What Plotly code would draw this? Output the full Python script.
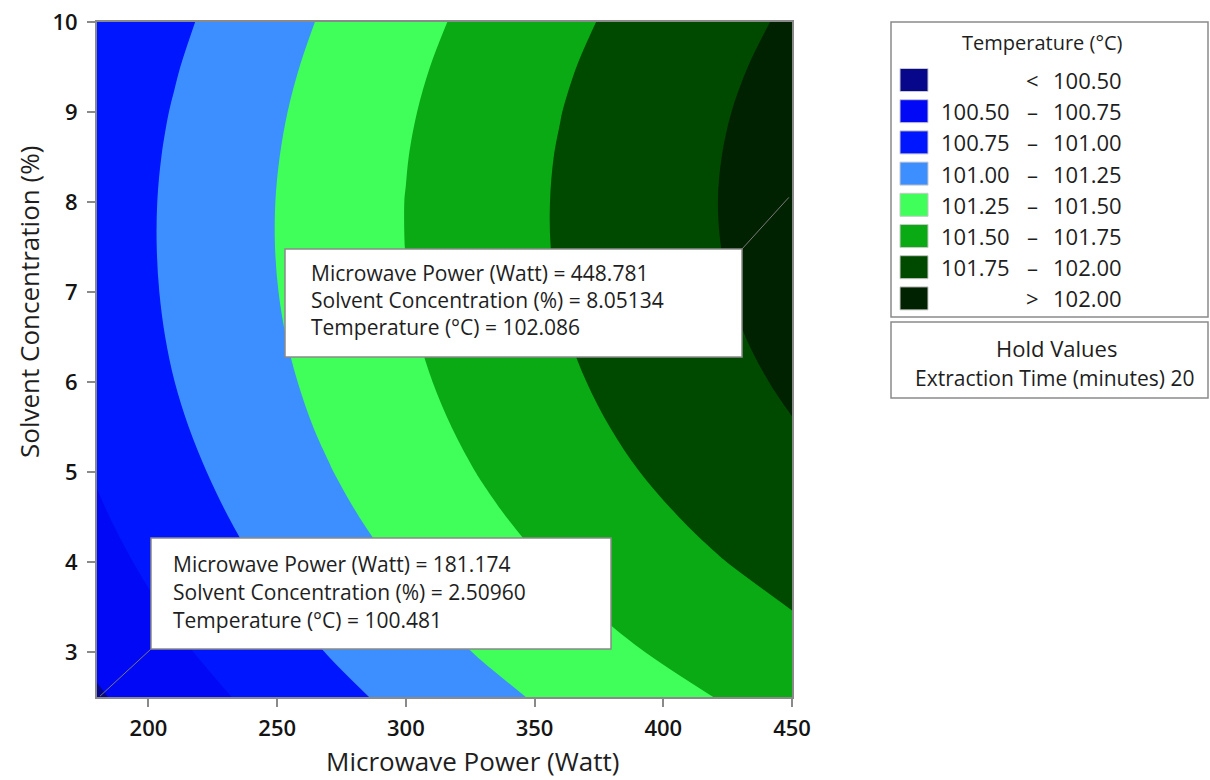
import plotly.graph_objects as go

# ---------------- data ----------------
power = [180, 210, 240, 270, 300, 330, 360, 390, 420, 450]          # Microwave Power (Watt)
solvent = [2.5, 3.0, 3.5, 4.0, 4.5, 5.0, 5.5, 6.0, 6.5, 7.0, 7.5, 8.0, 8.5, 9.0, 9.5, 10.0]  # Solvent Conc. (%)
temperature = [                                                     # Temperature (°C), rows = solvent
    [100.477, 100.638, 100.789, 100.931, 101.063, 101.187, 101.301, 101.406, 101.502, 101.588],
    [100.550, 100.712, 100.865, 101.008, 101.143, 101.268, 101.384, 101.491, 101.588, 101.676],
    [100.615, 100.779, 100.933, 101.078, 101.214, 101.341, 101.459, 101.567, 101.666, 101.756],
    [100.673, 100.838, 100.994, 101.140, 101.278, 101.406, 101.526, 101.635, 101.736, 101.828],
    [100.723, 100.889, 101.047, 101.195, 101.334, 101.464, 101.584, 101.695, 101.798, 101.891],
    [100.766, 100.933, 101.092, 101.241, 101.382, 101.513, 101.635, 101.747, 101.851, 101.945],
    [100.801, 100.970, 101.130, 101.280, 101.422, 101.554, 101.677, 101.791, 101.896, 101.991],
    [100.829, 100.999, 101.159, 101.311, 101.454, 101.587, 101.711, 101.826, 101.932, 102.029],
    [100.849, 101.020, 101.182, 101.334, 101.478, 101.612, 101.737, 101.854, 101.961, 102.059],
    [100.862, 101.033, 101.196, 101.350, 101.494, 101.629, 101.756, 101.873, 101.981, 102.080],
    [100.867, 101.039, 101.203, 101.357, 101.502, 101.638, 101.766, 101.883, 101.992, 102.092],
    [100.865, 101.038, 101.202, 101.357, 101.503, 101.640, 101.767, 101.886, 101.996, 102.096],
    [100.855, 101.029, 101.193, 101.349, 101.495, 101.633, 101.761, 101.881, 101.991, 102.092],
    [100.838, 101.012, 101.177, 101.333, 101.480, 101.618, 101.747, 101.867, 101.978, 102.080],
    [100.813, 100.987, 101.153, 101.309, 101.457, 101.595, 101.725, 101.845, 101.956, 102.059],
    [100.781, 100.955, 101.121, 101.278, 101.426, 101.564, 101.694, 101.815, 101.927, 102.029],
]
levels = [100.50, 100.75, 101.00, 101.25, 101.50, 101.75, 102.00]
band_colors = ["#07078C", "#0008F5", "#0016FF", "#3D8FFF", "#40FF5A", "#0AAA14", "#004A00", "#002200"]
legend_left = ["", "100.50", "100.75", "101.00", "101.25", "101.50", "101.75", ""]
legend_mid = ["<", "–", "–", "–", "–", "–", "–", ">"]
legend_right = ["100.50", "100.75", "101.00", "101.25", "101.50", "101.75", "102.00", "102.00"]
x_ticks = [200, 250, 300, 350, 400, 450]
y_ticks = [3, 4, 5, 6, 7, 8, 9, 10]

point_hi = {"power": 448.781, "solvent": 8.05134, "temp": 102.086}
point_lo = {"power": 181.174, "solvent": 2.50960, "temp": 100.481}
hold_text = "Extraction Time (minutes) 20"

# ---------------- layout geometry (pixels) ----------------
W, H = 1210, 780
L, R, T, B = 97, 792, 22, 697
FONT = "Open Sans"
TXT = "#1e1e1e"

def px(xp):
    return (xp - L) / (R - L)

def py(yp):
    return (B - yp) / (B - T)

def dx(xp):
    return power[0] + (xp - L) / (R - L) * (power[-1] - power[0])

def dy(yp):
    return solvent[0] + (B - yp) / (B - T) * (solvent[-1] - solvent[0])

# stepped colorscale, one band per colour
n = len(band_colors)
colorscale = []
for i, c in enumerate(band_colors):
    colorscale.append([i / n, c])
    colorscale.append([(i + 1) / n, c])

fig = go.Figure()
fig.add_trace(go.Contour(
    x=power, y=solvent, z=temperature,
    autocontour=False,
    contours=dict(start=levels[0], end=levels[-1], size=levels[1] - levels[0],
                  coloring="fill", showlines=False),
    line=dict(width=0, smoothing=1.0),
    colorscale=colorscale, showscale=False, hoverinfo="x+y+z",
))

shapes = []
annotations = []

# --- annotation boxes with leader lines ---
def info_box(x0, y0, x1, y1, tx, ty_list, pt):
    shapes.append(dict(type="rect", xref="paper", yref="paper",
                       x0=px(x0), x1=px(x1), y0=py(y1), y1=py(y0),
                       fillcolor="white", line=dict(color="#8a8a8a", width=1.5), layer="above"))
    lines = [f"Microwave Power (Watt) = {pt['power']:.3f}",
             f"Solvent Concentration (%) = {pt['solvent']:.5f}",
             f"Temperature (°C) = {pt['temp']:.3f}"]
    for t, yy in zip(lines, ty_list):
        annotations.append(dict(xref="paper", yref="paper", x=px(tx), y=py(yy),
                                xanchor="left", yanchor="middle", showarrow=False, text=t,
                                font=dict(family=FONT, size=21, color=TXT)))

info_box(285, 249, 742, 357, 309, [273, 300, 327], point_hi)
shapes.append(dict(type="line", xref="x", yref="y", x0=dx(742), y0=dy(249),
                   x1=point_hi["power"], y1=point_hi["solvent"],
                   line=dict(color="#7a7a7a", width=1), layer="above"))
info_box(151, 538, 611, 649, 171, [564, 592, 620], point_lo)
shapes.append(dict(type="line", xref="x", yref="y", x0=dx(151), y0=dy(649),
                   x1=point_lo["power"], y1=point_lo["solvent"],
                   line=dict(color="#7a7a7a", width=1), layer="above"))

# --- legend box ---
shapes.append(dict(type="rect", xref="paper", yref="paper", x0=px(891), x1=px(1208),
                   y0=py(317), y1=py(22), fillcolor="white",
                   line=dict(color="#8a8a8a", width=1.5)))
annotations.append(dict(xref="paper", yref="paper", x=px(1042), y=py(43), xanchor="center",
                        yanchor="middle", showarrow=False, text="Temperature (°C)",
                        font=dict(family=FONT, size=20, color=TXT)))
for i in range(n):
    yc = 80 + 31.2 * i
    shapes.append(dict(type="rect", xref="paper", yref="paper", x0=px(900), x1=px(928),
                       y0=py(yc + 11.5), y1=py(yc - 11.5), fillcolor=band_colors[i],
                       line=dict(color="#c8c8c8", width=1)))
    if legend_left[i]:
        annotations.append(dict(xref="paper", yref="paper", x=px(1012), y=py(yc), xanchor="right",
                                yanchor="middle", showarrow=False, text=legend_left[i],
                                font=dict(family=FONT, size=22, color=TXT)))
    annotations.append(dict(xref="paper", yref="paper", x=px(1032), y=py(yc), xanchor="center",
                            yanchor="middle", showarrow=False, text=legend_mid[i],
                            font=dict(family=FONT, size=22, color=TXT)))
    annotations.append(dict(xref="paper", yref="paper", x=px(1124), y=py(yc), xanchor="right",
                            yanchor="middle", showarrow=False, text=legend_right[i],
                            font=dict(family=FONT, size=22, color=TXT)))

# --- hold values box ---
shapes.append(dict(type="rect", xref="paper", yref="paper", x0=px(891), x1=px(1208),
                   y0=py(398), y1=py(322), fillcolor="white",
                   line=dict(color="#8a8a8a", width=1.5)))
annotations.append(dict(xref="paper", yref="paper", x=px(1056), y=py(348), xanchor="center",
                        yanchor="middle", showarrow=False, text="Hold Values",
                        font=dict(family=FONT, size=22, color=TXT, weight=500)))
annotations.append(dict(xref="paper", yref="paper", x=px(1054), y=py(378), xanchor="center",
                        yanchor="middle", showarrow=False, text=hold_text,
                        font=dict(family=FONT, size=21, color=TXT)))

# --- axis titles ---
annotations.append(dict(xref="paper", yref="paper", x=px(472), y=py(761), xanchor="center",
                        yanchor="middle", showarrow=False, text="Microwave Power (Watt)",
                        font=dict(family=FONT, size=26, color=TXT)))
annotations.append(dict(xref="paper", yref="paper", x=px(29), y=py(302), xanchor="center",
                        yanchor="middle", showarrow=False, text="Solvent Concentration (%)",
                        textangle=-90, font=dict(family=FONT, size=26, color=TXT)))

axis_common = dict(showgrid=False, zeroline=False, showline=True, linecolor="#8a8a8a",
                   linewidth=2, mirror=True, ticks="outside", ticklen=8, tickwidth=2,
                   tickcolor="#8a8a8a",
                   tickfont=dict(family=FONT, size=22, color="#141414", weight=600))

fig.update_layout(
    width=W, height=H,
    margin=dict(l=L, r=W - R, t=T, b=H - B, autoexpand=False),
    paper_bgcolor="white", plot_bgcolor="white",
    xaxis=dict(range=[power[0], power[-1]], tickvals=x_ticks, ticklabelstandoff=3, **axis_common),
    yaxis=dict(range=[solvent[0], solvent[-1]], tickvals=y_ticks, ticklabelstandoff=5, **axis_common),
    shapes=shapes, annotations=annotations, showlegend=False,
)

fig.write_html("out.html")
